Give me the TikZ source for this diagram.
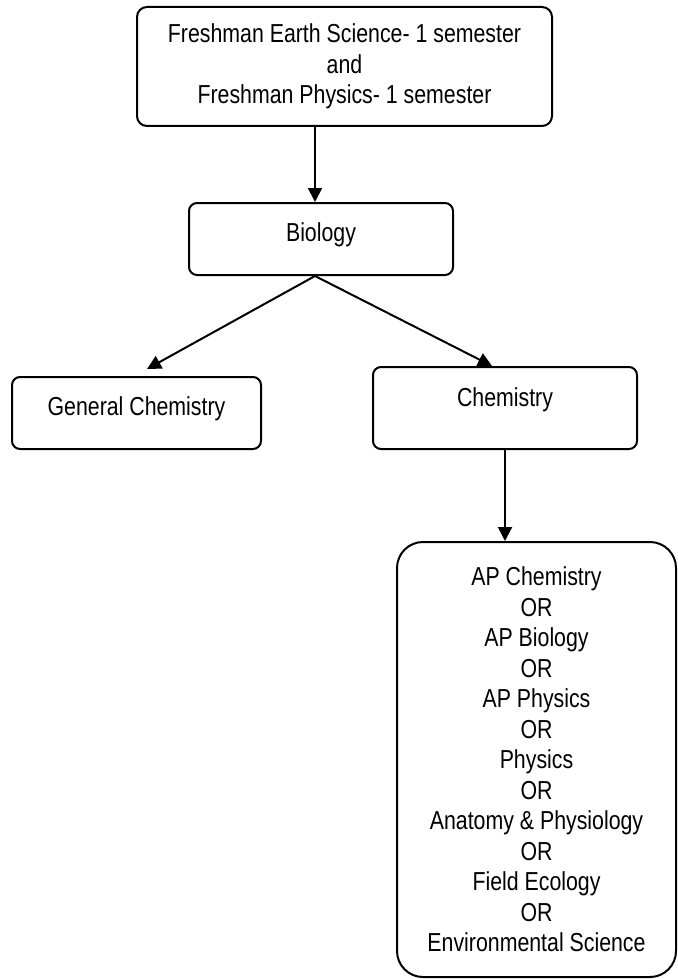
\documentclass[tikz,border=0pt]{standalone}
\usepackage{fontspec}
\setmainfont{Liberation Sans}[FakeStretch=0.82]
\usetikzlibrary{arrows.meta,positioning}

\begin{document}
\begin{tikzpicture}[x=0.5pt, y=-0.5pt,
    course/.style={draw, line width=1pt, rounded corners=5pt, inner xsep=0pt, inner ysep=0pt,
                   align=center, font=\fontsize{13}{15.25}\selectfont},
    arr/.style={line width=1pt, -{Triangle[length=7pt,width=7pt]}}]
            \useasboundingbox (0,0) rectangle (677,979);
            % Boxes of the course sequence
            \node[course, minimum width=207.5pt, minimum height=59.5pt] (fresh) at (344.5,66.5)
                {Freshman Earth Science- 1 semester\\and\\Freshman Physics- 1 semester};
            \node[course, rounded corners=4pt, minimum width=132pt, text height=19pt, text depth=17pt] (bio) at (321,239) {Biology};
            \node[course, rounded corners=4pt, minimum width=124.5pt, text height=19pt, text depth=17pt] (genchem) at (136.5,413) {General Chemistry};
            \node[course, rounded corners=4pt, minimum width=132pt, text height=19.5pt, text depth=21.5pt] (chem) at (505,408) {Chemistry};
            \node[course, rounded corners=13pt, minimum width=139.5pt, minimum height=217.5pt] (upper) at (536.5,759.5)
                {AP Chemistry\\OR\\AP Biology\\OR\\AP Physics\\OR\\Physics\\OR\\Anatomy \& Physiology\\OR\\Field Ecology\\OR\\Environmental Science};
            % Arrows between the boxes
            \coordinate (biotop) at ([xshift=-3pt]bio.north);
            \coordinate (biobot) at ([xshift=-3pt]bio.south);
            \draw[arr] (fresh.south -| biotop) -- (biotop);
            \draw[arr] (biobot) -- ([xshift=5.25pt, yshift=3.5pt]genchem.north);
            \draw[arr] (biobot) -- ([xshift=-6.5pt]chem.north);
            \draw[arr] (chem.south) -- (chem.south |- upper.north);
\end{tikzpicture}
\end{document}
